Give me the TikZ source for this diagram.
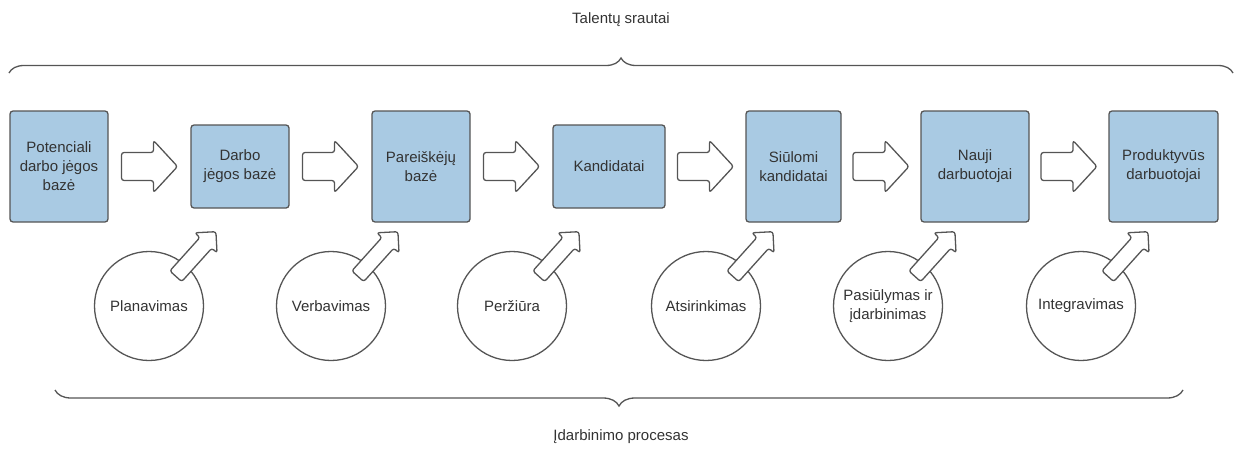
\documentclass[tikz,border=0pt]{standalone}
\usepackage{fontspec}
\setmainfont{Liberation Sans}
\usepackage{tikz}
\usetikzlibrary{calc,positioning,decorations.pathreplacing}
\definecolor{boxblue}{RGB}{169,202,227}
\definecolor{edge}{RGB}{85,85,85}
\definecolor{ink}{RGB}{51,51,51}
\tikzstyle{st} = [rectangle, draw=edge, fill=boxblue, line width=1.3pt, rounded corners=3pt, align=center, inner sep=0pt, text=ink, minimum width=98pt, minimum height=111pt]
\tikzstyle{ps} = [circle, draw=edge, fill=white, line width=1.3pt, align=center, inner sep=0pt, text=ink, minimum size=109pt]
\tikzstyle{ar} = [draw=edge, fill=white, line width=1.3pt, rounded corners=2.5pt, line join=round]
\tikzstyle{br} = [draw=edge, line width=1.3pt, decorate]
\tikzstyle{lb} = [text=ink, inner sep=0pt]

\begin{document}
\begin{tikzpicture}[x=1pt, y=-1pt, font=\fontsize{15}{19}\selectfont]
	\useasboundingbox (0,0) rectangle (1241,452);

	% stages of the flow
	\node[st] (b1) at (59,166.5) {Potenciali\\darbo jėgos\\bazė};
	\node[st, minimum height=83pt] (b2) at (240,166.5) {Darbo\\jėgos bazė};
	\node[st] (b3) at (421,166.5) {Pareiškėjų\\bazė};
	\node[st, minimum width=112pt, minimum height=83pt] (b4) at (609,166.5) {Kandidatai};
	\node[st, minimum width=95pt] (b5) at (793.5,166.5) {Siūlomi\\kandidatai};
	\node[st, minimum width=108pt] (b6) at (975,166.5) {Nauji\\darbuotojai};
	\node[st, minimum width=109pt] (b7) at (1163.5,166.5) {Produktyvūs\\darbuotojai};

	% process steps
	\node[ps] (p1) at (149,306) {Planavimas};
	\node[ps] (p2) at (331,306) {Verbavimas};
	\node[ps] (p3) at (512,306) {Peržiūra};
	\node[ps] (p4) at (706,306) {Atsirinkimas};
	\node[ps] (p5) at (888,306) {Pasiūlymas ir\\įdarbinimas};
	\node[ps] (p6) at (1081,306) {Integravimas};

	% block arrows between stages
	\foreach \a/\b in {b1/b2, b2/b3, b3/b4, b4/b5, b5/b6, b6/b7}
		\draw[ar] ($(\a.east)!.5!(\b.west)$) ++(-28,-14) -- ++(32,0) -- ++(0,-12) -- ++(24,26)
			-- ++(-24,26) -- ++(0,-12) -- ++(-32,0) -- cycle;

	% arrows out of the steps
	\foreach \c in {p1,p2,p3,p4,p5,p6}
		\draw[ar, shift={(\c.center)}, rotate=48] (40,-8) -- (85,-8) -- (85,-15) -- (100,0)
			-- (85,15) -- (85,8) -- (40,8) -- cycle;

	% braces
	\coordinate (tl) at (9,73);
	\coordinate (tr) at (1233,73);
	\coordinate (bl) at (55,390);
	\coordinate (bq) at (1183,390);
	\draw[br, decoration={brace, amplitude=15pt}] (tl) -- (tr);
	\draw[br, decoration={brace, amplitude=16pt}] (bq) -- (bl);

	\node[lb] (top) at (621,20) {Talentų srautai};
	\node[lb] (bot) at (621,437) {Įdarbinimo procesas};
\end{tikzpicture}
\end{document}
